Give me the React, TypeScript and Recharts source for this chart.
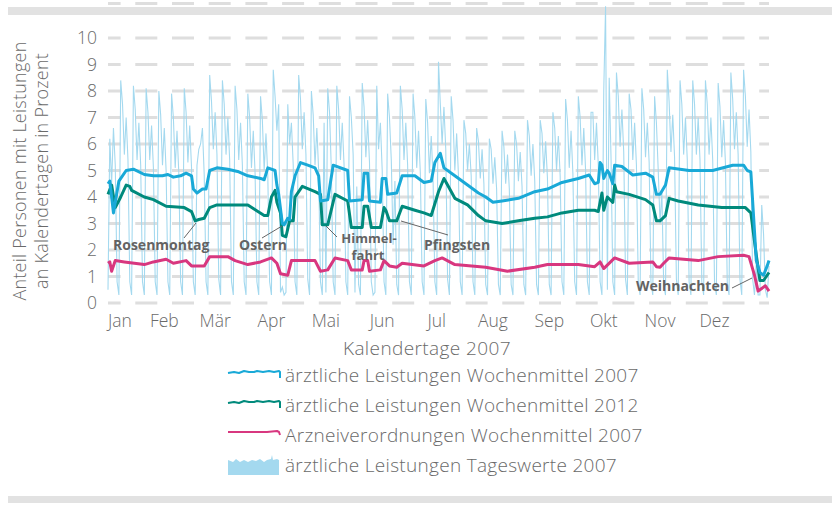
import React from "react";
import { ComposedChart, Line, XAxis, YAxis, CartesianGrid } from "recharts";

const monthLabels = ["Jan", "Feb", "Mär", "Apr", "Mai", "Jun", "Jul", "Aug", "Sep", "Okt", "Nov", "Dez"];
const monthStarts = [0, 31, 59, 90, 120, 151, 181, 212, 243, 273, 304, 334];
const yTicks = [0, 1, 2, 3, 4, 5, 6, 7, 8, 9, 10];

// Tageswerte 2007 (ärztliche Leistungen), one value per calendar day
const jan = [0.5, 6.2, 4.5, 6.6, 5.2, 0.8, 0.3, 8.4, 7.5, 5.6, 7.0, 5.4, 0.8, 0.3, 8.2, 7.3, 5.4, 6.8, 5.2, 0.8, 0.3, 8.1, 7.2, 5.4, 6.7, 5.1, 0.8, 0.3, 8.0, 7.1, 5.2];
const feb = [6.6, 5.0, 0.8, 0.3, 7.9, 7.0, 5.1, 6.5, 4.9, 0.8, 0.3, 8.1, 7.2, 5.3, 6.7, 5.1, 0.8, 0.3, 5.2, 5.8, 6.0, 6.6, 4.8, 0.8, 0.3, 8.6, 7.6, 5.8];
const mar = [7.2, 5.6, 0.9, 0.3, 8.4, 7.5, 5.6, 7.0, 5.4, 0.8, 0.3, 8.2, 7.3, 5.4, 6.8, 5.2, 0.8, 0.3, 7.9, 7.0, 5.1, 6.5, 4.9, 0.8, 0.3, 7.8, 6.9, 5.0, 6.4, 4.8, 0.8];
const apr = [0.3, 8.8, 7.8, 6.5, 7.5, 0.4, 0.6, 0.3, 0.4, 7.5, 6.0, 6.8, 5.2, 0.8, 0.3, 8.6, 7.7, 5.8, 7.2, 5.6, 0.9, 0.3, 8.0, 7.1, 5.2, 6.6, 5.0, 0.8, 0.3, 6.8];
const mai = [0.4, 8.1, 7.2, 5.0, 0.8, 0.3, 8.2, 7.3, 5.4, 6.8, 5.2, 0.8, 0.3, 7.8, 7.0, 5.6, 0.4, 4.4, 0.7, 0.3, 8.3, 7.4, 5.5, 6.9, 5.3, 0.8, 0.3, 0.4, 8.2, 5.8, 6.8];
const jun = [5.0, 0.8, 0.3, 7.9, 7.0, 5.4, 2.2, 4.6, 0.7, 0.3, 8.2, 7.3, 5.4, 6.8, 5.2, 0.8, 0.3, 7.9, 7.0, 5.1, 6.5, 4.9, 0.8, 0.3, 7.7, 6.8, 4.9, 6.3, 4.7, 0.8];
const jul = [0.3, 9.1, 7.5, 6.0, 7.4, 5.8, 0.9, 0.3, 7.8, 6.9, 5.0, 6.4, 4.8, 0.8, 0.3, 6.9, 6.4, 5.0, 6.0, 4.8, 0.8, 0.3, 6.6, 6.1, 4.7, 5.8, 4.5, 0.7, 0.3, 6.2, 5.8];
const aug = [4.5, 5.5, 4.3, 0.7, 0.3, 6.5, 5.9, 4.5, 5.6, 4.3, 0.7, 0.3, 6.5, 6.0, 4.6, 5.7, 4.4, 0.7, 0.3, 6.9, 6.3, 4.8, 6.0, 4.6, 0.7, 0.3, 6.9, 6.4, 4.9, 6.1, 4.7];
const sep = [0.7, 0.3, 7.2, 6.6, 5.0, 6.3, 4.8, 0.8, 0.3, 7.7, 6.9, 5.1, 6.5, 4.9, 0.8, 0.3, 7.8, 7.0, 5.2, 6.6, 5.0, 0.8, 0.3, 7.2, 7.2, 5.4, 6.8, 5.2, 0.8, 0.3];
const okt = [8.0, 11.2, 0.5, 8.5, 5.5, 0.8, 0.3, 8.7, 7.8, 5.9, 7.3, 5.7, 0.9, 0.3, 7.9, 7.3, 5.4, 6.8, 5.2, 0.8, 0.3, 8.1, 7.3, 5.5, 6.8, 5.3, 0.8, 0.3, 7.8, 6.8, 5.0];
const nov = [3.0, 4.2, 0.7, 0.3, 8.8, 7.6, 5.7, 7.1, 5.5, 0.9, 0.3, 8.4, 7.5, 5.6, 7.0, 5.4, 0.8, 0.3, 8.4, 7.5, 5.6, 7.0, 5.4, 0.8, 0.3, 8.4, 7.5, 5.6, 7.0, 5.4];
const dez = [0.8, 0.3, 8.3, 7.4, 5.5, 6.9, 5.3, 0.8, 0.3, 8.7, 7.7, 5.8, 7.2, 5.6, 0.9, 0.3, 8.8, 7.8, 5.9, 7.3, 5.7, 0.9, 0.3, 1.5, 0.3, 0.3, 3.7, 2.6, 0.5, 0.2, 1.4];

// Wochenmittel, [Kalendertag, Wert]
const wochen2007: [number, number][] = [
  [0, 4.5], [1, 4.6], [3, 3.4], [6, 4.6], [10, 5.0], [14, 5.05], [20, 4.85], [25, 4.8], [30, 4.8], [33, 4.85],
  [36, 4.75], [40, 4.8], [43, 4.9], [46, 4.8], [47, 4.3], [49, 4.15], [52, 4.3], [54, 4.3], [56, 5.0], [60, 5.1],
  [66, 5.05], [72, 4.95], [77, 4.8], [84, 4.7], [86, 4.65], [88, 5.1], [92, 5.0], [93, 4.45], [94, 4.1], [96, 3.0],
  [97, 2.95], [99, 3.2], [100, 3.15], [101, 4.2], [103, 4.8], [106, 5.3], [110, 5.2], [114, 5.1], [116, 4.8], [117, 3.85],
  [121, 3.9], [124, 5.2], [132, 5.0], [133, 3.85], [140, 3.9], [141, 4.9], [143, 4.9], [144, 3.85], [150, 3.8], [151, 4.7],
  [153, 4.7], [154, 4.1], [159, 4.15], [162, 4.8], [169, 4.8], [174, 4.55], [178, 4.6], [180, 5.3], [183, 5.65], [185, 5.1],
  [191, 4.8], [198, 4.45], [204, 4.15], [208, 4.0], [212, 3.8], [217, 3.85], [226, 3.95], [235, 4.2], [242, 4.3], [250, 4.55],
  [259, 4.7], [265, 4.83], [268, 4.5], [270, 4.55], [271, 5.3], [272, 5.2], [273, 4.7], [275, 5.0], [276, 4.9], [278, 4.5],
  [279, 5.2], [283, 5.15], [289, 4.83], [296, 4.9], [300, 4.75], [302, 4.1], [304, 4.1], [307, 4.45], [309, 5.1], [320, 5.0],
  [333, 5.0], [344, 5.2], [350, 5.2], [352, 5.0], [354, 4.95], [357, 1.6], [359, 1.15], [361, 1.05], [363, 1.4], [364, 1.6],
];

const wochen2012: [number, number][] = [
  [0, 4.1], [2, 4.45], [4, 3.6], [7, 4.0], [10, 4.45], [12, 4.4], [13, 4.25], [20, 4.0], [25, 3.9], [32, 3.65],
  [42, 3.6], [46, 3.45], [48, 3.1], [50, 3.15], [53, 3.2], [56, 3.6], [60, 3.7], [77, 3.7], [86, 3.3], [88, 3.3],
  [90, 4.0], [92, 4.25], [93, 3.8], [95, 3.4], [96, 2.55], [98, 2.5], [100, 3.1], [102, 3.1], [103, 4.0], [107, 4.4],
  [114, 4.2], [117, 4.1], [118, 2.95], [121, 2.95], [125, 4.1], [132, 3.85], [134, 2.85], [140, 2.85], [141, 3.65], [143, 3.65],
  [145, 2.85], [150, 2.85], [152, 3.6], [153, 3.5], [155, 3.1], [159, 3.1], [162, 3.65], [169, 3.5], [174, 3.4], [178, 3.3],
  [182, 4.2], [185, 4.7], [187, 4.45], [191, 3.95], [198, 3.7], [204, 3.3], [208, 3.1], [217, 3.0], [226, 3.1], [235, 3.2],
  [242, 3.25], [250, 3.4], [259, 3.5], [268, 3.5], [270, 3.45], [272, 4.15], [273, 3.5], [275, 4.0], [278, 3.8], [279, 4.45],
  [280, 4.2], [287, 4.1], [296, 3.9], [300, 3.7], [302, 3.1], [304, 3.1], [307, 3.3], [309, 3.95], [314, 3.85], [325, 3.7],
  [338, 3.6], [351, 3.6], [354, 3.4], [357, 1.8], [359, 0.85], [361, 0.85], [364, 1.15],
];

const arznei2007: [number, number][] = [
  [0, 1.5], [1, 1.55], [2, 1.2], [4, 1.6], [9, 1.55], [20, 1.45], [25, 1.55], [32, 1.65], [36, 1.5], [43, 1.6],
  [46, 1.4], [53, 1.4], [56, 1.75], [60, 1.75], [66, 1.75], [70, 1.6], [77, 1.45], [84, 1.55], [90, 1.7], [93, 1.5],
  [95, 1.1], [99, 1.05], [101, 1.6], [114, 1.6], [117, 1.2], [121, 1.25], [125, 1.7], [132, 1.6], [134, 1.25], [140, 1.25],
  [141, 1.6], [143, 1.6], [144, 1.2], [150, 1.25], [152, 1.6], [155, 1.4], [159, 1.35], [162, 1.5], [174, 1.4], [180, 1.6],
  [184, 1.7], [191, 1.45], [208, 1.35], [220, 1.2], [235, 1.35], [242, 1.45], [259, 1.45], [268, 1.37], [271, 1.55], [273, 1.3],
  [279, 1.7], [287, 1.5], [300, 1.55], [302, 1.37], [304, 1.35], [306, 1.5], [309, 1.7], [325, 1.6], [336, 1.75], [350, 1.8],
  [353, 1.75], [356, 1.05], [358, 0.45], [362, 0.65], [364, 0.45],
];

const seriesNames = [
  "ärztliche Leistungen Wochenmittel 2007",
  "ärztliche Leistungen Wochenmittel 2012",
  "Arzneiverordnungen Wochenmittel 2007",
  "ärztliche Leistungen Tageswerte 2007",
];

const C_2007 = "#19a9d7";
const C_2012 = "#008a7c";
const C_ARZ = "#d8377f";
const C_DAY = "#a4d9ef";
const FONT = "'Open Sans', 'Noto Sans', sans-serif";
const TXT = "#6a6a6a";

const tagesWerte = [...jan, ...feb, ...mar, ...apr, ...mai, ...jun, ...jul, ...aug, ...sep, ...okt, ...nov, ...dez];

const data: any[] = tagesWerte.map((v, day) => ({ day, tages: v }));
wochen2007.forEach(([d, v]) => (data[d].w2007 = v));
wochen2012.forEach(([d, v]) => (data[d].w2012 = v));
arznei2007.forEach(([d, v]) => (data[d].arz = v));

const XTick = (p: any) => {
  const first = p.index === 0;
  return (
    <text x={p.x} y={327} textAnchor={first ? "start" : "middle"} fill={TXT} fontSize={17.5} fontFamily={FONT} fontWeight={300}>
      {monthLabels[p.index]}
    </text>
  );
};

const YTick = (p: any) => (
  <text x={97} y={p.y} dy="0.35em" textAnchor="end" fill={TXT} fontSize={17.5} fontFamily={FONT} fontWeight={300}>
    {p.payload.value}
  </text>
);

const gridLine = (p: any) => (
  <line key={`g-${p.index}`} x1={p.x1} x2={p.x2} y1={p.y1} y2={p.y2} stroke="#dedede" strokeWidth={3} strokeDasharray="22 14.7" strokeDashoffset={9.4} />
);

const LegendIcon = ({ i }: { i: number }) => {
  if (i === 3) {
    return (
      <svg width={54} height={22}>
        <path d="M1 21 L1 6 L6 8 L9 5 L13 8 L17 6 L21 8 L25 6 L29 7 L33 5 L37 8 L40 6 L44 5 L45 1 L46 6 L50 5 L52 6 L52 21 Z" fill={C_DAY} />
      </svg>
    );
  }
  const color = [C_2007, C_2012, C_ARZ][i];
  const pts = i === 2 ? "1,4 14,4 28,4 40,4 50,3 52,4 53,7" : "1,5 7,4 12,5 17,3 22,4 27,4 30,3 36,4 42,3 47,4 52,3 53,4 53,10";
  return (
    <svg width={54} height={14}>
      <polyline points={pts} fill="none" stroke={color} strokeWidth={2} strokeLinejoin="round" />
    </svg>
  );
};

export default function App() {
  return (
    <div style={{ position: "absolute", left: 0, top: 0, width: 832, height: 505, background: "#fff", overflow: "hidden" }}>
      <div style={{ position: "absolute", left: 8, top: 7, width: 824, height: 8, background: "#e2e2e2" }} />
      <div style={{ position: "absolute", left: 8, top: 496, width: 824, height: 7, background: "#e2e2e2" }} />
      <div style={{ position: "absolute", left: 0, top: 0 }}>
        <ComposedChart width={832} height={505} data={data} margin={{ top: 3.55, right: 63, bottom: 162, left: 8 }}>
          <CartesianGrid vertical={false} horizontal={gridLine} />
          <XAxis dataKey="day" type="number" domain={[0, 364]} ticks={monthStarts} tick={<XTick />} axisLine={false} tickLine={false} height={40} interval={0} />
          <YAxis type="number" domain={[0, 11.3]} ticks={yTicks} tick={<YTick />} axisLine={false} tickLine={false} width={100} allowDataOverflow />
          <Line dataKey="tages" stroke={C_DAY} strokeWidth={1.1} dot={false} isAnimationActive={false} type="linear" />
          <Line dataKey="arz" stroke={C_ARZ} strokeWidth={3} dot={false} connectNulls isAnimationActive={false} type="linear" strokeLinejoin="round" />
          <Line dataKey="w2012" stroke={C_2012} strokeWidth={3} dot={false} connectNulls isAnimationActive={false} type="linear" strokeLinejoin="round" />
          <Line dataKey="w2007" stroke={C_2007} strokeWidth={3} dot={false} connectNulls isAnimationActive={false} type="linear" strokeLinejoin="round" />
        </ComposedChart>
      </div>
      <svg width={832} height={505} style={{ position: "absolute", left: 0, top: 0, pointerEvents: "none" }}>
        <g fontFamily={FONT} fill={TXT} fontSize={18} fontWeight={300} letterSpacing={0.25}>
          <text transform="translate(26,171) rotate(-90)" textAnchor="middle">Anteil Personen mit Leistungen</text>
          <text transform="translate(48,171) rotate(-90)" textAnchor="middle">an Kalendertagen in Prozent</text>
          <text x={427} y={355} textAnchor="middle" fontSize={19} letterSpacing={0.4}>Kalendertage 2007</text>
        </g>
        <g fontFamily={FONT} fill="#636363" fontSize={14} fontWeight={700}>
          <text x={113} y={250}>Rosenmontag</text>
          <text x={239} y={250}>Ostern</text>
          <text x={369} y={243} textAnchor="middle" fontSize={13}>Himmel-</text>
          <text x={368} y={260} textAnchor="middle" fontSize={13}>fahrt</text>
          <text x={424} y={250}>Pfingsten</text>
          <text x={636} y={291}>Weihnachten</text>
        </g>
        <g stroke="#666" strokeWidth={1}>
          <line x1={184} y1={238} x2={196} y2={223} />
          <line x1={262} y1={238} x2={282} y2={226} />
          <line x1={337} y1={237} x2={326} y2={226} />
          <line x1={401} y1={221} x2={448} y2={235} />
          <line x1={732} y1={288} x2={752} y2={278} />
        </g>
      </svg>
      {seriesNames.map((name, i) => (
        <div key={name} style={{ position: "absolute", left: 227, top: 363 + i * 30, height: 24, display: "flex", alignItems: "center", fontFamily: FONT, fontWeight: 300, fontSize: 19, letterSpacing: 0.3, color: TXT, whiteSpace: "nowrap" }}>
          <div style={{ width: 58, display: "flex", alignItems: "center" }}>
            <LegendIcon i={i} />
          </div>
          <span>{name}</span>
        </div>
      ))}
    </div>
  );
}
